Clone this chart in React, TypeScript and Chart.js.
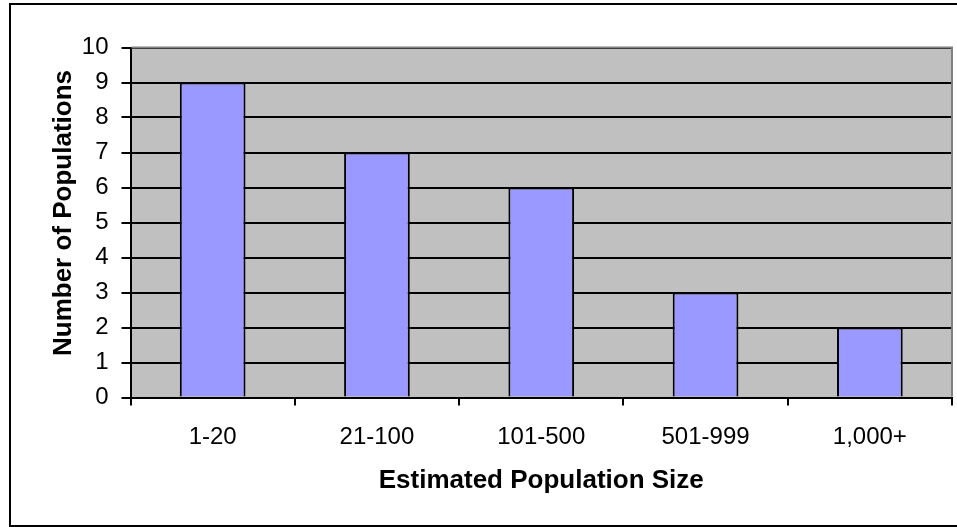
import React, { useEffect, useRef } from "react";
import { Chart, registerables } from "chart.js";

Chart.register(...registerables);

const categories: string[] = ["1-20", "21-100", "101-500", "501-999", "1,000+"];
const populations: number[] = [9, 7, 6, 3, 2];
const yTicks: number[] = [0, 1, 2, 3, 4, 5, 6, 7, 8, 9, 10];
const xTitle = "Estimated Population Size";
const yTitle = "Number of Populations";

const FONT = "'Liberation Sans', Arial, sans-serif";

const framePlugin = {
  id: "frame",
  beforeDraw(chart: any) {
    const { ctx, chartArea } = chart;
    ctx.save();
    ctx.fillStyle = "#ffffff";
    ctx.fillRect(0, 0, chart.width, chart.height);
    ctx.strokeStyle = "#000000";
    ctx.lineWidth = 2;
    ctx.strokeRect(10, 4, 1000, 522);
    ctx.fillStyle = "#C0C0C0";
    ctx.fillRect(chartArea.left, chartArea.top, chartArea.right - chartArea.left, chartArea.bottom - chartArea.top);
    ctx.restore();
  },
  afterDraw(chart: any) {
    const { ctx, chartArea } = chart;
    ctx.save();
    ctx.strokeStyle = "#808080";
    ctx.lineWidth = 2;
    ctx.beginPath();
    ctx.moveTo(chartArea.left + 1, chartArea.top);
    ctx.lineTo(chartArea.right, chartArea.top);
    ctx.lineTo(chartArea.right, chartArea.bottom - 1);
    ctx.stroke();
    // vertical axis title
    ctx.fillStyle = "#000000";
    ctx.font = `bold 26px ${FONT}`;
    ctx.textAlign = "center";
    ctx.textBaseline = "middle";
    ctx.translate(64, 213);
    ctx.rotate(-Math.PI / 2);
    ctx.fillText(yTitle, 0, 0);
    ctx.restore();
  },
};

export default function App() {
  const canvasRef = useRef<HTMLCanvasElement | null>(null);

  useEffect(() => {
    if (!canvasRef.current) return;
    const chart = new Chart(canvasRef.current, {
      type: "bar",
      data: {
        labels: categories,
        datasets: [
          {
            data: populations,
            backgroundColor: "#9999FF",
            borderColor: "#000000",
            borderWidth: 2,
            barPercentage: 0.4,
            categoryPercentage: 1,
          },
        ],
      },
      options: {
        animation: false,
        responsive: false,
        devicePixelRatio: 1,
        layout: { padding: { left: 0, top: 47.5, right: 5, bottom: 29.5 } },
        plugins: {
          legend: { display: false },
          tooltip: { enabled: false },
          title: { display: false },
        },
        scales: {
          x: {
            grid: {
              offset: true,
              drawOnChartArea: false,
              drawTicks: true,
              tickLength: 8,
              color: "#000000",
              lineWidth: 2,
            },
            border: { display: true, color: "#000000", width: 2 },
            ticks: {
              color: "#000000",
              padding: 17,
              font: { family: FONT, size: 24 },
              maxRotation: 0,
            },
            title: {
              display: true,
              text: xTitle,
              color: "#000000",
              font: { family: FONT, size: 26, weight: "bold" },
              padding: { top: 0, bottom: 1.5 },
            },
            afterFit: (scale: any) => {
              scale.height = 100;
            },
          },
          y: {
            min: 0,
            max: 10,
            afterBuildTicks: (scale: any) => {
              scale.ticks = yTicks.map((v) => ({ value: v }));
            },
            grid: {
              drawTicks: true,
              tickLength: 9,
              color: "#000000",
              lineWidth: 2,
            },
            border: { display: true, color: "#000000", width: 2 },
            ticks: {
              color: "#000000",
              padding: 13,
              font: { family: FONT, size: 24 },
            },
            title: { display: false },
            afterFit: (scale: any) => {
              scale.width = 130.5;
            },
          },
        },
      },
      plugins: [framePlugin],
    });
    return () => chart.destroy();
  }, []);

  return (
    <div style={{ position: "fixed", left: 0, top: 0, width: 957, height: 527 }}>
      <canvas ref={canvasRef} width={957} height={527} style={{ display: "block", width: 957, height: 527 }} />
    </div>
  );
}
